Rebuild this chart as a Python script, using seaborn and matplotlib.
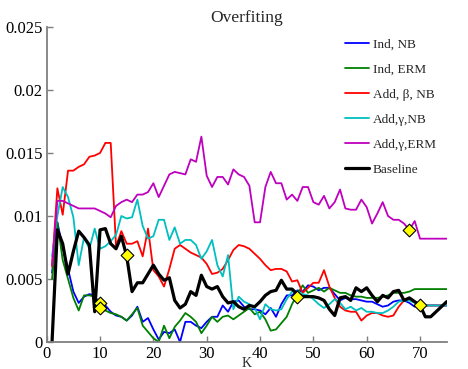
import matplotlib
matplotlib.use("Agg")
import matplotlib.pyplot as plt
import seaborn as sns

K = list(range(1, 76))

ind_nb = [0.0055, 0.0095, 0.0075, 0.0058, 0.0040, 0.0031, 0.0036, 0.0038, 0.0037, 0.0029,
          0.0029, 0.0024, 0.0021, 0.0020, 0.0017, 0.0021, 0.0028, 0.0016, 0.0019, 0.0010,
          0.0002, 0.0008, 0.0007, 0.0010, 0.0000, 0.0016, 0.0016, 0.0013, 0.0011, 0.0016,
          0.0020, 0.0020, 0.0029, 0.0024, 0.0032, 0.0033, 0.0028, 0.0026, 0.0026, 0.0025,
          0.0022, 0.0027, 0.0020, 0.0030, 0.0037, 0.0037, 0.0041, 0.0040, 0.0045, 0.0044,
          0.0041, 0.0043, 0.0043, 0.0038, 0.0033, 0.0035, 0.0034, 0.0034, 0.0033, 0.0032,
          0.0032, 0.0030, 0.0028, 0.0029, 0.0032, 0.0033, 0.0033, 0.0031, 0.0028, 0.0029,
          0.0029, 0.0029, 0.0029, 0.0029, 0.0029]

ind_erm = [0.0050, 0.0095, 0.0065, 0.0050, 0.0035, 0.0025, 0.0037, 0.0037, 0.0036, 0.0027,
           0.0025, 0.0023, 0.0022, 0.0020, 0.0017, 0.0022, 0.0027, 0.0013, 0.0008, 0.0003,
           0.0000, 0.0013, 0.0003, 0.0012, 0.0017, 0.0023, 0.0020, 0.0016, 0.0007, 0.0013,
           0.0020, 0.0016, 0.0020, 0.0021, 0.0018, 0.0021, 0.0024, 0.0027, 0.0022, 0.0024,
           0.0018, 0.0009, 0.0010, 0.0015, 0.0020, 0.0030, 0.0038, 0.0045, 0.0039, 0.0041,
           0.0043, 0.0040, 0.0043, 0.0041, 0.0039, 0.0039, 0.0037, 0.0036, 0.0036, 0.0035,
           0.0035, 0.0035, 0.0036, 0.0037, 0.0039, 0.0039, 0.0039, 0.0040, 0.0042, 0.0042,
           0.0042, 0.0042, 0.0042, 0.0042, 0.0042]

add_beta_nb = [0.0060, 0.0122, 0.0101, 0.0136, 0.0136, 0.0139, 0.0141, 0.0147, 0.0148, 0.0150,
               0.0158, 0.0158, 0.0076, 0.0088, 0.0078, 0.0078, 0.0080, 0.0068, 0.0090, 0.0057,
               0.0052, 0.0044, 0.0058, 0.0074, 0.0077, 0.0074, 0.0071, 0.0069, 0.0067, 0.0062,
               0.0054, 0.0055, 0.0058, 0.0065, 0.0073, 0.0077, 0.0076, 0.0074, 0.0070, 0.0066,
               0.0061, 0.0057, 0.0058, 0.0058, 0.0056, 0.0048, 0.0049, 0.0039, 0.0043, 0.0047,
               0.0047, 0.0057, 0.0044, 0.0035, 0.0028, 0.0025, 0.0024, 0.0024, 0.0017, 0.0021,
               0.0023, 0.0023, 0.0021, 0.0020, 0.0021, 0.0028, 0.0033, 0.0035, 0.0032, 0.0029,
               0.0029, 0.0029, 0.0029, 0.0029, 0.0029]

add_gamma_nb = [0.0068, 0.0100, 0.0123, 0.0115, 0.0099, 0.0061, 0.0083, 0.0074, 0.0090, 0.0074,
                0.0076, 0.0080, 0.0085, 0.0100, 0.0098, 0.0099, 0.0113, 0.0092, 0.0082, 0.0084,
                0.0097, 0.0097, 0.0081, 0.0091, 0.0078, 0.0081, 0.0081, 0.0077, 0.0066, 0.0072,
                0.0081, 0.0061, 0.0052, 0.0069, 0.0026, 0.0036, 0.0032, 0.0030, 0.0027, 0.0018,
                0.0030, 0.0026, 0.0025, 0.0026, 0.0034, 0.0040, 0.0040, 0.0038, 0.0037, 0.0034,
                0.0030, 0.0027, 0.0030, 0.0034, 0.0031, 0.0026, 0.0028, 0.0025, 0.0027, 0.0024,
                0.0024, 0.0023, 0.0023, 0.0025, 0.0028, 0.0032, 0.0033, 0.0033, 0.0031, 0.0029,
                0.0029, 0.0029, 0.0029, 0.0029, 0.0029]

add_gamma_erm = [0.0061, 0.0112, 0.0112, 0.0110, 0.0108, 0.0106, 0.0106, 0.0106, 0.0106, 0.0104,
                 0.0102, 0.0099, 0.0108, 0.0111, 0.0113, 0.0111, 0.0117, 0.0117, 0.0119, 0.0126,
                 0.0115, 0.0124, 0.0133, 0.0135, 0.0134, 0.0133, 0.0145, 0.0143, 0.0163, 0.0132,
                 0.0123, 0.0131, 0.0131, 0.0125, 0.0137, 0.0133, 0.0131, 0.0124, 0.0095, 0.0095,
                 0.0123, 0.0135, 0.0126, 0.0126, 0.0113, 0.0117, 0.0112, 0.0123, 0.0123, 0.0111,
                 0.0109, 0.0116, 0.0106, 0.0111, 0.0121, 0.0106, 0.0105, 0.0105, 0.0113, 0.0107,
                 0.0094, 0.0102, 0.0111, 0.0100, 0.0097, 0.0097, 0.0094, 0.0089, 0.0096, 0.0082,
                 0.0082, 0.0082, 0.0082, 0.0082, 0.0082]

baseline = [0.0000, 0.0089, 0.0078, 0.0054, 0.0072, 0.0088, 0.0083, 0.0077, 0.0024, 0.0089,
            0.0090, 0.0078, 0.0074, 0.0084, 0.0068, 0.0040, 0.0047, 0.0047, 0.0054, 0.0061,
            0.0054, 0.0049, 0.0051, 0.0033, 0.0027, 0.0030, 0.0040, 0.0037, 0.0053, 0.0044,
            0.0042, 0.0044, 0.0036, 0.0031, 0.0032, 0.0028, 0.0026, 0.0029, 0.0028, 0.0032,
            0.0037, 0.0040, 0.0041, 0.0049, 0.0042, 0.0042, 0.0038, 0.0036, 0.0036, 0.0036,
            0.0035, 0.0033, 0.0026, 0.0021, 0.0035, 0.0036, 0.0033, 0.0043, 0.0040, 0.0043,
            0.0037, 0.0032, 0.0037, 0.0035, 0.0040, 0.0041, 0.0033, 0.0035, 0.0032, 0.0029,
            0.0020, 0.0020, 0.0024, 0.0028, 0.0032]

labels = ["Ind, NB", "Ind, ERM", "Add, \u03b2, NB", "Add,\u03b3,NB", "Add,\u03b3,ERM", "Baseline"]
colors = ["#0000ff", "#008000", "#ff0000", "#00bfbf", "#bf00bf", "#000000"]
series = [ind_nb, ind_erm, add_beta_nb, add_gamma_nb, add_gamma_erm, baseline]

diamond_k = [10, 10, 15, 47, 68, 70]
diamond_v = [0.0031, 0.0027, 0.0069, 0.0036, 0.0089, 0.0029]

yticks = [0, 0.005, 0.01, 0.015, 0.02, 0.025]
ytick_labels = ["0", "0.005", "0.01", "0.015", "0.02", "0.025"]
xticks = [0, 10, 20, 30, 40, 50, 60, 70]

sns.set_style("ticks")
plt.rcParams['font.family'] = ['Liberation Serif', 'DejaVu Serif']

fig = plt.figure(figsize=(4.68, 3.69), dpi=100)
ax = fig.add_axes([46.7 / 468, 1 - 342 / 369, 400 / 468, 315 / 369])

for vals, lab, col in zip(series, labels, colors):
    lw = 2.3 if lab == "Baseline" else 1.3
    sns.lineplot(x=K, y=vals, color=col, linewidth=lw, label=lab, ax=ax)

sns.scatterplot(x=diamond_k, y=diamond_v, marker='D', s=42, color='#ffff00',
                edgecolor='black', linewidth=0.8, ax=ax, zorder=5, legend=False)

ax.set_xlim(0, 75)
ax.set_ylim(0, 0.025)
ax.set_xticks(xticks)
ax.set_xticklabels([str(t) for t in xticks])
ax.set_yticks(yticks)
ax.set_yticklabels(ytick_labels)
sns.despine(ax=ax)
for s in ["left", "bottom"]:
    ax.spines[s].set_color("#7f7f7f")
    ax.spines[s].set_linewidth(1.3)
ax.tick_params(direction="in", length=4, width=1, color="#7f7f7f",
               labelsize=12, labelcolor="black", pad=3)

ax.set_title("Overfiting", fontsize=12.5, pad=3.5)
ax.set_xlabel("K", fontsize=10, labelpad=-3.5)
ax.set_ylabel("")

handles, labs = ax.get_legend_handles_labels()
ax.legend(handles, labs, loc="upper left", bbox_to_anchor=(345 / 468, 1 - 38 / 369),
          bbox_transform=fig.transFigure, frameon=False, fontsize=9.5,
          handlelength=1.8, handletextpad=0.3, labelspacing=0.98,
          borderpad=0, borderaxespad=0)

fig.savefig("out.png", dpi=100)
